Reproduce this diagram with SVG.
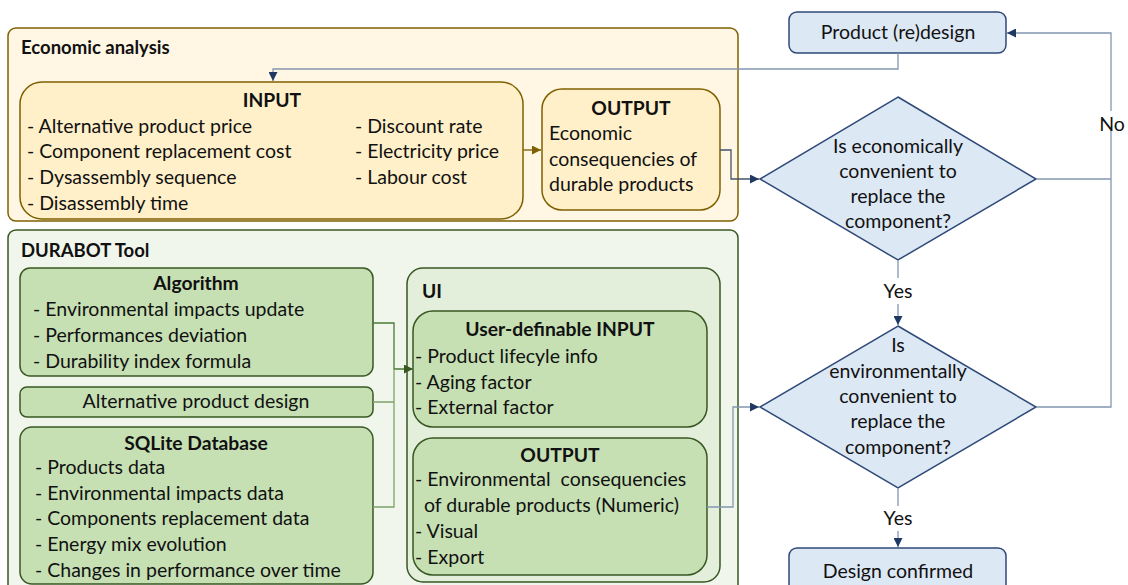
<svg xmlns="http://www.w3.org/2000/svg" width="1128" height="585" viewBox="0 0 1128 585">
<style>
text{font-family:Lato,"Liberation Sans",sans-serif;fill:#111;font-size:19.5px}
.b{font-weight:bold;font-size:19.3px}
.h{font-weight:bold;font-size:18.5px}
.m{text-anchor:middle}
.pre{white-space:pre}
.eco{fill:#fff7e4;stroke:#7f6000;stroke-width:1.5}
.ecoin{fill:#fff0c9;stroke:#7f6000;stroke-width:1.5}
.dur{fill:#f0f6eb;stroke:#385723;stroke-width:1.5}
.ui{fill:#e3efda;stroke:#385723;stroke-width:1.5}
.gr{fill:#c6e0b4;stroke:#385723;stroke-width:1.5}
.bl{fill:#dde8f5;stroke:#2f4a78;stroke-width:1.5}
.ln{fill:none;stroke:#8497b0;stroke-width:1.3}
.lnd{fill:none;stroke:#44546a;stroke-width:1.3}
.lo{fill:none;stroke:#8c6d1f;stroke-width:1.5}
.lg{fill:none;stroke:#4b7a35;stroke-width:1.3}
.lgl{fill:none;stroke:#7fa36b;stroke-width:1.3}
</style>
<defs>
<marker id="an" viewBox="0 0 10 10" refX="10" refY="5" markerWidth="9" markerHeight="9" markerUnits="userSpaceOnUse" orient="auto"><path d="M0,0L10,5L0,10z" fill="#203864"/></marker>
<marker id="ao" viewBox="0 0 10 10" refX="10" refY="5" markerWidth="9" markerHeight="9" markerUnits="userSpaceOnUse" orient="auto"><path d="M0,0L10,5L0,10z" fill="#7f6000"/></marker>
<marker id="ag" viewBox="0 0 10 10" refX="10" refY="5" markerWidth="9" markerHeight="9" markerUnits="userSpaceOnUse" orient="auto"><path d="M0,0L10,5L0,10z" fill="#385723"/></marker>
</defs>

<g id="economic-analysis">
<rect class="eco" x="8" y="28" width="730" height="193" rx="8"/>
<text class="h" x="21" y="54">Economic analysis</text>
</g>
<g id="eco-input">
<rect class="ecoin" x="20" y="82" width="503" height="137" rx="22"/>
<text class="b m" x="272" y="107">INPUT</text>
<text x="27" y="133">- Alternative product price</text>
<text x="27" y="158">- Component replacement cost</text>
<text x="27" y="184">- Dysassembly sequence</text>
<text x="27" y="210">- Disassembly time</text>
<text x="355" y="133">- Discount rate</text>
<text x="355" y="158">- Electricity price</text>
<text x="355" y="184">- Labour cost</text>
</g>
<g id="eco-output">
<rect class="ecoin" x="542" y="89" width="178" height="121" rx="20"/>
<text class="b m" x="631" y="115">OUTPUT</text>
<text x="549" y="140">Economic</text>
<text x="549" y="166">consequencies of</text>
<text x="549" y="191">durable products</text>
</g>

<g id="durabot-tool">
<rect class="dur" x="8" y="230" width="730" height="370" rx="8"/>
<text class="h" x="21" y="257">DURABOT Tool</text>
</g>
<g id="algorithm">
<rect class="gr" x="20" y="268" width="353" height="108" rx="10"/>
<text class="b m" x="196" y="290">Algorithm</text>
<text x="33" y="316">- Environmental impacts update</text>
<text x="33" y="342">- Performances deviation</text>
<text x="33" y="368">- Durability index formula</text>
</g>
<g id="alt-design">
<rect class="gr" x="20" y="387" width="353" height="30" rx="7"/>
<text class="m" x="196" y="408">Alternative product design</text>
</g>
<g id="sqlite">
<rect class="gr" x="20" y="427" width="353" height="157" rx="12"/>
<text class="b m" x="196" y="450">SQLite Database</text>
<text x="35" y="474">- Products data</text>
<text x="35" y="500">- Environmental impacts data</text>
<text x="35" y="525">- Components replacement data</text>
<text x="35" y="551">- Energy mix evolution</text>
<text x="35" y="577">- Changes in performance over time</text>
</g>
<g id="ui">
<rect class="ui" x="407" y="268" width="313" height="314" rx="16"/>
<text class="b" x="422" y="298">UI</text>
</g>
<g id="ui-input">
<rect class="gr" x="413" y="311" width="294" height="116" rx="20"/>
<text class="b m" x="560" y="336">User-definable INPUT</text>
<text x="415" y="363">- Product lifecyle info</text>
<text x="415" y="389">- Aging factor</text>
<text x="415" y="414">- External factor</text>
</g>
<g id="ui-output">
<rect class="gr" x="413" y="438" width="294" height="137" rx="20"/>
<text class="b m" x="560" y="462">OUTPUT</text>
<text class="pre" x="415" y="486">- Environmental  consequencies</text>
<text x="424" y="512">of durable products (Numeric)</text>
<text x="415" y="538">- Visual</text>
<text x="415" y="564">- Export</text>
</g>

<g id="product-redesign">
<rect class="bl" x="789" y="12" width="217" height="41" rx="8"/>
<text class="m" x="898" y="39">Product (re)design</text>
</g>
<g id="decision-economic">
<polygon class="bl" points="898,97 1036,179 898,260 760,179"/>
<text class="m" x="898" y="153">Is economically</text>
<text class="m" x="898" y="178">convenient to</text>
<text class="m" x="898" y="203">replace the</text>
<text class="m" x="898" y="228">component?</text>
</g>
<g id="decision-environmental">
<polygon class="bl" points="898,326 1036,407 898,488 760,407"/>
<text class="m" x="898" y="352">Is</text>
<text class="m" x="898" y="378">environmentally</text>
<text class="m" x="898" y="403">convenient to</text>
<text class="m" x="898" y="428">replace the</text>
<text class="m" x="898" y="454">component?</text>
</g>
<g id="design-confirmed">
<rect class="bl" x="789" y="548" width="217" height="50" rx="8"/>
<text class="m" x="898" y="578">Design confirmed</text>
</g>

<g id="connectors">
<path class="ln" d="M898,53V69H273V81" marker-end="url(#an)"/>
<path class="lo" d="M523,150H541" marker-end="url(#ao)"/>
<path class="lnd" d="M720,150H731V179H759" marker-end="url(#an)"/>
<path class="ln" d="M1036,179H1111"/>
<path class="ln" d="M1036,407H1111V129M1111,111V33H1007" marker-end="url(#an)"/>
<text x="1112" y="131" class="m">No</text>
<path class="ln" d="M898,260V278"/>
<text x="898" y="298" class="m">Yes</text>
<path class="ln" d="M898,304V325" marker-end="url(#an)"/>
<path class="ln" d="M898,488V506"/>
<text x="898" y="525" class="m">Yes</text>
<path class="ln" d="M898,531V547" marker-end="url(#an)"/>
<path class="lg" d="M373,323H394V369H413" marker-end="url(#ag)"/>
<path class="lgl" d="M373,402H394V369M373,507H394V402"/>
<path class="ln" d="M707,507H733V407H759" marker-end="url(#an)"/>
</g>
</svg>
